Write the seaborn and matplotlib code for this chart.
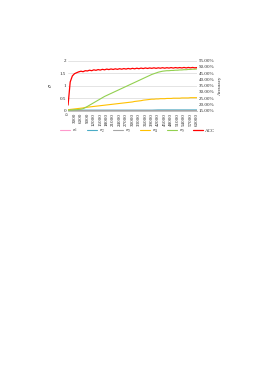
import matplotlib
matplotlib.use("Agg")
import matplotlib.pyplot as plt
import matplotlib.ticker as mticker
import seaborn as sns

# pasos de entrenamiento
steps = list(range(0, 60001, 1000))
steps_coarse = list(range(0, 60001, 3000))

sigma1 = [0.01] * 21
sigma2 = [0.02, 0.02, 0.02, 0.02, 0.02, 0.02, 0.02, 0.02, 0.02, 0.02, 0.02,
          0.02, 0.02, 0.02, 0.03, 0.03, 0.03, 0.03, 0.03, 0.03, 0.03]
sigma3 = [0.01] * 21

sigma4 = [0.04, 0.05, 0.06, 0.07, 0.08, 0.09, 0.10, 0.11, 0.13, 0.14,
          0.15, 0.16, 0.17, 0.18, 0.19, 0.20, 0.21, 0.22, 0.23, 0.24,
          0.25, 0.26, 0.27, 0.28, 0.29, 0.30, 0.31, 0.32, 0.33, 0.34,
          0.35, 0.37, 0.38, 0.39, 0.40, 0.42, 0.43, 0.44, 0.45, 0.46,
          0.46, 0.47, 0.47, 0.48, 0.48, 0.48, 0.49, 0.49, 0.49, 0.50,
          0.50, 0.50, 0.50, 0.51, 0.51, 0.51, 0.51, 0.52, 0.52, 0.52,
          0.52]

sigma5 = [0.02, 0.03, 0.03, 0.04, 0.04, 0.05, 0.06, 0.08, 0.12, 0.17,
          0.22, 0.27, 0.32, 0.37, 0.42, 0.47, 0.52, 0.57, 0.61, 0.65,
          0.69, 0.73, 0.77, 0.81, 0.85, 0.89, 0.93, 0.97, 1.01, 1.05,
          1.09, 1.13, 1.17, 1.21, 1.25, 1.29, 1.33, 1.37, 1.41, 1.45,
          1.48, 1.51, 1.54, 1.56, 1.58, 1.59, 1.60, 1.60, 1.61, 1.61,
          1.62, 1.62, 1.63, 1.63, 1.64, 1.64, 1.65, 1.65, 1.66, 1.66,
          1.67]

acc = [19.5, 38.0, 42.8, 44.6, 45.4, 46.1, 46.6, 46.2, 47.0, 46.8,
       47.4, 47.0, 47.7, 47.3, 47.9, 47.5, 48.1, 47.7, 48.3, 47.9,
       48.4, 48.0, 48.5, 48.1, 48.6, 48.2, 48.7, 48.3, 48.8, 48.4,
       48.9, 48.5, 49.0, 48.6, 49.1, 48.7, 49.2, 48.8, 49.2, 48.9,
       49.3, 48.9, 49.3, 49.0, 49.4, 49.0, 49.4, 49.1, 49.5, 49.1,
       49.5, 49.2, 49.5, 49.2, 49.6, 49.2, 49.6, 49.3, 49.6, 49.3,
       49.5]

xticks = list(range(0, 60001, 3000))
acc_ticks = list(range(15, 56, 5))

colors = {
    "s1": "#FF99CC",
    "s2": "#4BACC6",
    "s3": "#A5A5A5",
    "s4": "#FFC000",
    "s5": "#92D050",
    "acc": "#FF0000",
}

sns.set_style("white")
plt.rcParams["font.family"] = ["Liberation Serif", "DejaVu Serif"]
plt.rcParams["mathtext.fontset"] = "stix"

fig = plt.figure(figsize=(2.69, 3.83), dpi=100)
ax = fig.add_axes([0.253, 0.711, 0.479, 0.1305])
ax2 = ax.twinx()

fs = 3.6
lw = 0.8

sns.lineplot(x=steps_coarse, y=sigma1, ax=ax, color=colors["s1"], lw=lw, label=r"$\sigma_1$")
sns.lineplot(x=steps_coarse, y=sigma2, ax=ax, color=colors["s2"], lw=lw, label=r"$\sigma_2$")
sns.lineplot(x=steps_coarse, y=sigma3, ax=ax, color=colors["s3"], lw=lw, label=r"$\sigma_3$")
sns.lineplot(x=steps, y=sigma4, ax=ax, color=colors["s4"], lw=lw, label=r"$\sigma_4$")
sns.lineplot(x=steps, y=sigma5, ax=ax, color=colors["s5"], lw=lw, label=r"$\sigma_5$")
sns.lineplot(x=steps, y=acc, ax=ax2, color=colors["acc"], lw=0.9, label="ACC")

ax.set_xlim(0, 60000)
ax.set_ylim(0, 2)
ax.set_yticks([0, 0.5, 1, 1.5, 2])
ax.set_yticklabels(["0", "0.5", "1", "1.5", "2"])
ax.set_xticks(xticks)
ax.set_xticklabels([str(v) for v in xticks], rotation=90)
ax.yaxis.grid(True, color="#D9D9D9", lw=0.5)
ax.set_axisbelow(True)

ax2.set_ylim(15, 55)
ax2.set_yticks(acc_ticks)
ax2.set_yticklabels([f"{v:.2f}%" for v in acc_ticks])

for a in (ax, ax2):
    a.tick_params(length=0, labelsize=fs, pad=1.5)
    for s in ("top", "left", "right"):
        a.spines[s].set_visible(False)
    a.spines["bottom"].set_color("#BFBFBF")
    a.spines["bottom"].set_linewidth(0.5)

ax.set_ylabel(r"$\sigma$", fontsize=fs + 0.5, labelpad=4)
ax2.set_ylabel("Accuracy", fontsize=fs, labelpad=2)

h1, l1 = ax.get_legend_handles_labels()
h2, l2 = ax2.get_legend_handles_labels()
ax.get_legend().remove()
ax2.get_legend().remove()
fig.legend(h1 + h2, l1 + l2, loc="center", bbox_to_anchor=(0.512, 0.658),
           ncol=6, frameon=False, fontsize=fs, handlelength=2.0,
           columnspacing=1.7, handletextpad=0.4)

fig.savefig("out.png", dpi=100)
